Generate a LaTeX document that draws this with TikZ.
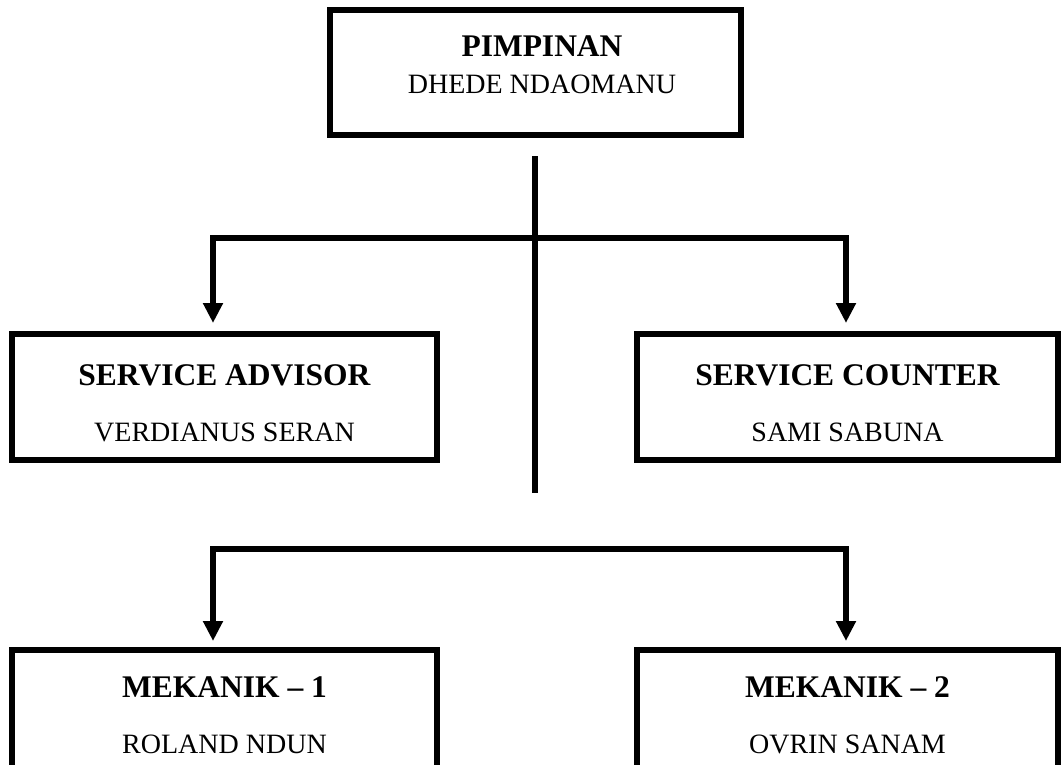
\documentclass[tikz,border=0pt]{standalone}
\usepackage{fontspec}
\setmainfont{Liberation Serif}
\usetikzlibrary{arrows.meta}
\begin{document}
\begin{tikzpicture}[x=1pt,y=-1pt,
  box/.style={draw, line width=6.5pt, rectangle, inner sep=0pt},
  ttl/.style={anchor=base, font=\fontsize{31.5}{36}\selectfont\bfseries, inner sep=0pt},
  nm/.style={anchor=base, font=\fontsize{28}{32}\selectfont, inner sep=0pt},
  conn/.style={line width=6.5pt},
  arr/.style={conn, -{Triangle[length=20pt,width=19pt]}}]
\useasboundingbox (0,0) rectangle (1061,764);
% boxes
\node[box, minimum width=411pt, minimum height=125pt] (top) at (535.5,72.5) {};
\node[box, minimum width=425pt, minimum height=126pt] (sa) at (224.5,397) {};
\node[box, minimum width=421pt, minimum height=126pt] (sc) at (847.5,397) {};
\node[box, minimum width=425pt, minimum height=128pt] (m1) at (224.5,714) {};
\node[box, minimum width=421pt, minimum height=128pt] (m2) at (847.5,714) {};
% texts
\node[ttl] (topt) at (542,56.4) {PIMPINAN};
\node[nm]  (topn) at (542,93.8) {DHEDE NDAOMANU};
\node[ttl] (sat) at (224.5,385.4) {SERVICE ADVISOR};
\node[nm]  (san) at (224.5,441.3) {VERDIANUS SERAN};
\node[ttl] (sct) at (847.5,385.4) {SERVICE COUNTER};
\node[nm]  (scn) at (847.5,441.3) {SAMI SABUNA};
\node[ttl] (m1t) at (224.5,697.4) {MEKANIK -- 1};
\node[nm]  (m1n) at (224.5,753.3) {ROLAND NDUN};
\node[ttl] (m2t) at (847.5,697.4) {MEKANIK -- 2};
\node[nm]  (m2n) at (847.5,753.3) {OVRIN SANAM};
% connectors
\coordinate (vtop) at (535,156);
\coordinate (vbot) at (535,493);
\coordinate (j1) at (535,238);
\coordinate (j2) at (535,549);
\coordinate (a1) at (213,323);
\coordinate (a2) at (846,323);
\coordinate (a3) at (213,641);
\coordinate (a4) at (846,641);
\draw[conn] (vtop) -- (vbot);
\draw[arr] (j1) -| (a1);
\draw[arr] (j1) -| (a2);
\draw[arr] (j2) -| (a3);
\draw[arr] (j2) -| (a4);
\end{tikzpicture}
\end{document}
